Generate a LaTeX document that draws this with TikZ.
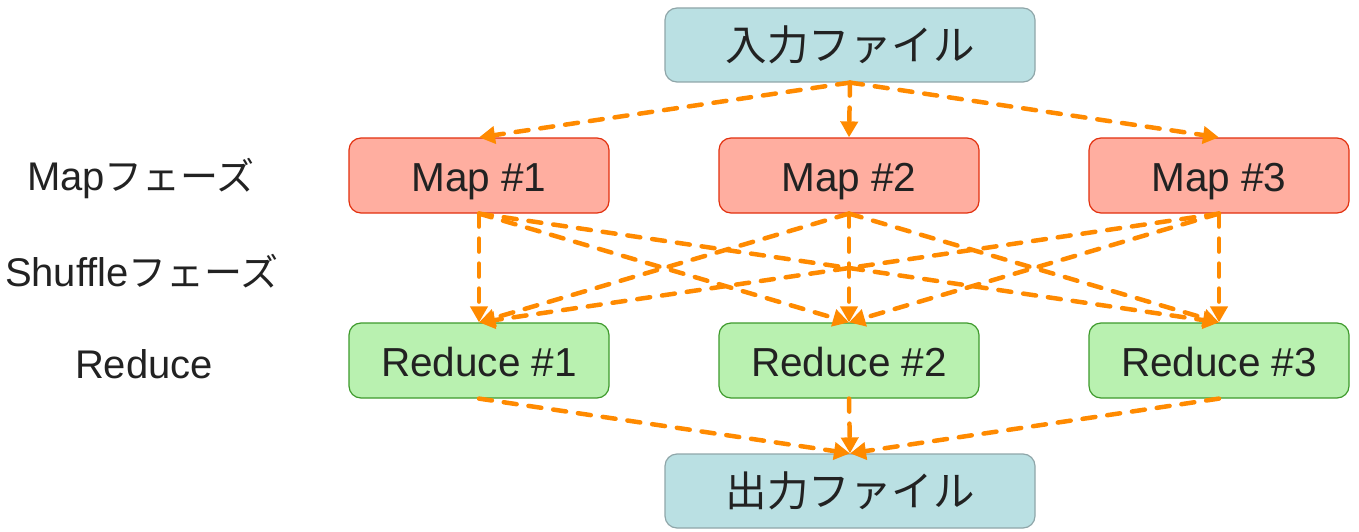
\documentclass[tikz,border=0pt]{standalone}
\usepackage{fontspec}
\setmainfont{Liberation Sans}
\newfontfamily\jp{Noto Sans CJK JP}
\usetikzlibrary{arrows.meta}
\definecolor{fileFill}{HTML}{BAE0E3}
\definecolor{fileLine}{HTML}{8FA6A9}
\definecolor{mapFill}{HTML}{FFAEA0}
\definecolor{mapLine}{HTML}{E2300E}
\definecolor{redFill}{HTML}{B9F1B0}
\definecolor{redLine}{HTML}{3E9A2C}
\definecolor{flow}{HTML}{FF8A00}
\definecolor{ink}{HTML}{222222}
\begin{document}
\begin{tikzpicture}[x=1pt,y=-1pt,
  box/.style={rectangle, rounded corners=12pt, line width=1.2pt, text=ink,
    font=\fontsize{40.5}{46}\selectfont},
  filebox/.style={box, draw=fileLine, fill=fileFill, minimum width=370pt, minimum height=74pt,
    font=\fontsize{41.5}{46}\selectfont\jp},
  taskbox/.style={box, minimum width=260pt, minimum height=75pt,
    text height=32pt, text depth=0pt},
  mapbox/.style={taskbox, draw=mapLine, fill=mapFill},
  redbox/.style={taskbox, draw=redLine, fill=redFill},
  phase/.style={text=ink, font=\fontsize{40}{46}\selectfont},
  flowline/.style={draw=flow, line width=4.5pt, line cap=round,
    dash pattern=on 13pt off 12pt,
    -{Triangle[length=16pt,width=17pt]}}]
\useasboundingbox (0,0) rectangle (1359,532);

% input and output files
\node[filebox] (in)  at (850,45)  {入力ファイル};
\node[filebox] (out) at (850,491) {出力ファイル};

% map tasks
\node[mapbox] (m1) at (479,175.5)  {Map \#1};
\node[mapbox] (m2) at (849,175.5)  {Map \#2};
\node[mapbox] (m3) at (1219,175.5) {Map \#3};

% reduce tasks
\node[redbox] (r1) at (479,360.5)  {Reduce \#1};
\node[redbox] (r2) at (849,360.5)  {Reduce \#2};
\node[redbox] (r3) at (1219,360.5) {Reduce \#3};

% phase labels
\node[phase] (lmap) at (141,179) {Map{\jp\fontsize{38}{46}\selectfont フェーズ}};
\node[phase] (lshu) at (142,271) {Shuffle{\jp\fontsize{38}{46}\selectfont フェーズ}};
\node[phase] (lred) at (144,364) {Reduce};

% input split to maps
\foreach \m in {m1,m2,m3}
  \draw[flowline] (in.south) -- (\m.north);

% shuffle: every map feeds every reduce
\foreach \m in {m1,m2,m3}
  \foreach \r in {r1,r2,r3}
    \draw[flowline] (\m.south) -- (\r.north);

% reduces write the output
\foreach \r in {r1,r2,r3}
  \draw[flowline] (\r.south) -- (out.north);
\end{tikzpicture}
\end{document}
